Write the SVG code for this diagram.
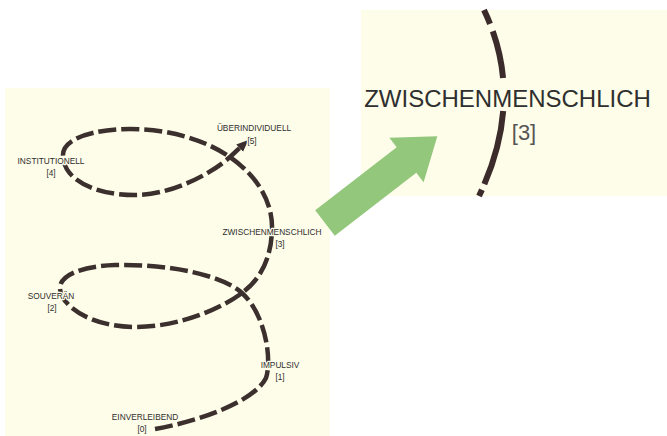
<svg xmlns="http://www.w3.org/2000/svg" width="667" height="436" viewBox="0 0 667 436">
  <defs>
    <style>
      .panel { fill: #fefde9; }
      .spiral { fill: none; stroke: #3b302d; stroke-width: 4.5; stroke-dasharray: 18 5; stroke-linecap: butt; }
      .lbl { font-family: "Liberation Sans", Arial, sans-serif; font-size: 8.3px; fill: #2e2e2e; text-anchor: middle;
             stroke: #fefde9; stroke-width: 2.5; stroke-linejoin: round; paint-order: stroke; }
      .big { font-family: "Liberation Sans", Arial, sans-serif; font-size: 24px; fill: #2f2f2f; text-anchor: middle; }
      .bignum { font-family: "Liberation Sans", Arial, sans-serif; font-size: 22px; fill: #555555; text-anchor: middle; }
      .pointer { fill: #92c77c; }
    </style>
    <marker id="head" markerUnits="userSpaceOnUse" markerWidth="12" markerHeight="12" refX="6" refY="5" orient="auto" viewBox="0 0 12 10">
      <path d="M0,0 L12,5 L0,10 Z" fill="#3b302d"/>
    </marker>
  </defs>

  <rect width="667" height="436" fill="#ffffff"/>

  <!-- left panel: spiral of stages -->
  <rect class="panel" x="5" y="88" width="325" height="348"/>

  <g id="connectors">
    <path class="spiral" marker-end="url(#head)"
          d="M155,429 C205,420 255,400 266,378
             C272,360 266,315 242,293
             C222,275 170,264 115,265
             C85,266 60,274 60,288
             C60,305 90,327 135,327
             C180,327 222,308 242,293
             C258,281 271,262 272,230
             C273,205 260,178 230,157
             C205,140 170,129 130,129
             C95,129 63,138 63,155
             C63,180 95,195 135,195
             C170,195 210,175 230,157
             L244,144"/>
  </g>

  <g id="stage0"><text class="lbl" x="145" y="420">EINVERLEIBEND</text><text class="lbl" x="142" y="432">[0]</text></g>
  <g id="stage1"><text class="lbl" x="280" y="368">IMPULSIV</text><text class="lbl" x="280" y="380">[1]</text></g>
  <g id="stage2"><text class="lbl" x="51" y="299">SOUVERÄN</text><text class="lbl" x="52" y="311">[2]</text></g>
  <g id="stage3"><text class="lbl" x="272" y="235">ZWISCHENMENSCHLICH</text><text class="lbl" x="280" y="247">[3]</text></g>
  <g id="stage4"><text class="lbl" x="51" y="164">INSTITUTIONELL</text><text class="lbl" x="51" y="176">[4]</text></g>
  <g id="stage5"><text class="lbl" x="254" y="131">ÜBERINDIVIDUELL</text><text class="lbl" x="252" y="144">[5]</text></g>

  <!-- right panel: enlarged stage 3 -->
  <rect class="panel" x="361" y="10" width="306" height="186"/>
  <g id="detail">
    <path d="M484,10 Q526,98 479,196" fill="none" stroke="#3b2c2b" stroke-width="6" stroke-dasharray="15 8 48 33 76 6 30"/>
    <text class="big" x="507.5" y="107">ZWISCHENMENSCHLICH</text>
    <text class="bignum" x="524" y="140">[3]</text>
  </g>

  <!-- pointer to the enlarged detail, drawn on top -->
  <g id="pointer">
    <polygon class="pointer" transform="translate(325,223) rotate(-37.7)"
             points="0,-16 103,-16 103,-28 142,0 103,28 103,16 0,16"/>
  </g>
</svg>
